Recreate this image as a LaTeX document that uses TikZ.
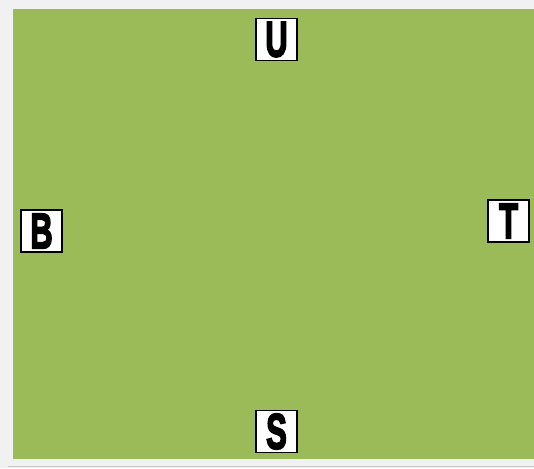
\documentclass[tikz,border=0pt]{standalone}
\usepackage{fontspec}
\setmainfont{Liberation Sans}
\newfontfamily\heavyfont[FakeBold=4]{Liberation Sans Bold}
\definecolor{bggray}{HTML}{F1F1F1}
\definecolor{panelgreen}{HTML}{9BBB59}
\definecolor{edgegray}{HTML}{C8C8C8}
\tikzset{
  letterbox/.style={draw=black, line width=1.8pt, fill=white, minimum width=41pt, minimum height=42pt, inner sep=0pt,
    font=\heavyfont\fontsize{50}{50}\selectfont},
}
\newcommand{\lett}[1]{\scalebox{0.62}[1]{#1}}
\begin{document}
\begin{tikzpicture}[x=1pt,y=-1pt]
\useasboundingbox (0,0) rectangle (534,468);
\fill[bggray] (0,0) rectangle (534,468);
\fill[panelgreen] (13,9.5) rectangle (534,458.5);
\draw[edgegray, line width=1pt] (8,466) -- (534,466);
\node[letterbox] (U) at (276.5,39.5) {\lett{U}};
\node[letterbox] (S) at (276.5,431.5) {\lett{S}};
\node[letterbox] (B) at (41.5,231) {\lett{B}};
\node[letterbox] (T) at (508.5,221) {\lett{T}};
\end{tikzpicture}
\end{document}
